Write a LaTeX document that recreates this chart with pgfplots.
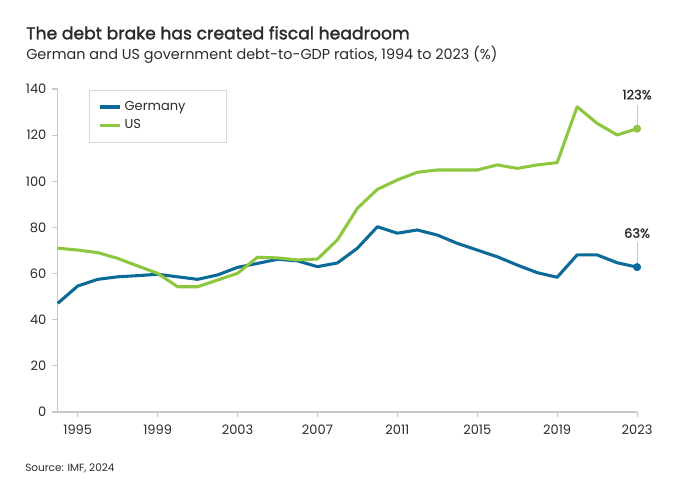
\documentclass[border=0pt]{standalone}
\usepackage{pgfplots}
\pgfplotsset{compat=1.18}
\usepackage{fontspec}
\setmainfont{Poppins}
\newfontfamily\titlefont{Poppins}[FakeBold=1.7]
\newfontfamily\annfont{Poppins}[FakeBold=1.3]
\definecolor{deblue}{HTML}{0B6A98}
\definecolor{usgreen}{HTML}{8DC63F}
\definecolor{axgray}{HTML}{C8C8C8}
\definecolor{txt}{HTML}{2B2B2B}
\begin{document}
\begin{tikzpicture}
\useasboundingbox (0,0) rectangle (510pt,-372pt);
\begin{scope}[x=0.75pt,y=-0.75pt]
\node[anchor=base west,inner sep=0pt,text=txt,font=\fontsize{12.9pt}{14pt}\selectfont\titlefont] at (26,39.3) {The debt brake has created fiscal headroom};
\node[anchor=base west,inner sep=0pt,text=txt,font=\fontsize{10.8pt}{12pt}\selectfont] at (26,59.3) {German and US government debt-to-GDP ratios, 1994 to 2023 (\%)};
\node[anchor=base west,inner sep=0pt,text=txt,font=\fontsize{7.85pt}{9pt}\selectfont] at (25,471) {Source: IMF, 2024};
\end{scope}
\begin{axis}[
  at={(43.3pt,-309pt)}, anchor=south west,
  scale only axis, width=434.5pt, height=242.25pt,
  xmin=1994, xmax=2023, ymin=0, ymax=140,
  xtick={1995,1999,2003,2007,2011,2015,2019,2023},
  ytick={0,20,...,140},
  xticklabel style={/pgf/number format/1000 sep={}},
  /pgf/number format/assume math mode=true,
  ticklabel style={font=\fontsize{9.75pt}{11pt}\selectfont, text=txt},
  axis x line*=bottom, axis y line*=left,
  axis line style={axgray, line width=0.8pt, -},
  major tick style={axgray, line width=0.8pt},
  tick align=outside, major tick length=4pt,
  xtick pos=bottom, ytick pos=left,
  yticklabel style={xshift=-1pt},
  xticklabel style={yshift=-2pt},
  clip=false,
  legend style={at={(rel axis cs:0.054,0.997)}, anchor=north west, draw=axgray!70, line width=0.6pt,
    font=\fontsize{9.75pt}{11pt}\selectfont, text=txt,
    inner xsep=7pt, inner ysep=6.3pt, row sep=1.3pt},
  legend cell align=left,
  legend image code/.code={\draw[#1, line width=2.4pt] (0pt,0pt) -- (15pt,0pt);},
]
\addplot[deblue, line width=2.3pt, line join=round] coordinates {
(1994,47.1) (1995,54.6) (1996,57.5) (1997,58.6) (1998,59.1) (1999,59.7)
(2000,58.6) (2001,57.5) (2002,59.4) (2003,62.7) (2004,64.4) (2005,66.2)
(2006,65.5) (2007,63.0) (2008,64.6) (2009,71.0) (2010,80.3) (2011,77.5)
(2012,78.9) (2013,76.7) (2014,73.1) (2015,70.2) (2016,67.3) (2017,63.7)
(2018,60.4) (2019,58.4) (2020,68.1) (2021,68.1) (2022,64.7) (2023,62.8)};
\addlegendentry{Germany\hspace*{22pt}}
\addplot[usgreen, line width=2.3pt, line join=round] coordinates {
(1994,71.0) (1995,70.2) (1996,69.1) (1997,66.6) (1998,63.3) (1999,60.1)
(2000,54.3) (2001,54.3) (2002,57.2) (2003,60.1) (2004,67.1) (2005,66.8)
(2006,65.9) (2007,66.3) (2008,74.6) (2009,88.3) (2010,96.5) (2011,100.6)
(2012,103.9) (2013,104.9) (2014,104.9) (2015,104.9) (2016,107.1) (2017,105.6)
(2018,107.1) (2019,108.1) (2020,132.3) (2021,125.1) (2022,120.1) (2023,122.8)};
\addlegendentry{US}
\draw[axgray, line width=0.7pt] (axis cs:2023,122.8) -- ++(0pt,18pt);
\draw[axgray, line width=0.7pt] (axis cs:2023,62.8) -- ++(0pt,18.5pt);
\addplot[only marks, mark=*, mark size=2.8pt, usgreen, forget plot] coordinates {(2023,122.8)};
\addplot[only marks, mark=*, mark size=2.8pt, deblue, forget plot] coordinates {(2023,62.8)};
\node[anchor=base, inner sep=0pt, text=txt, font=\fontsize{9.75pt}{11pt}\selectfont\annfont] at ([yshift=22pt]axis cs:2023,122.8) {123\%};
\node[anchor=base, inner sep=0pt, text=txt, font=\fontsize{9.75pt}{11pt}\selectfont\annfont] at ([yshift=22pt]axis cs:2023,62.8) {63\%};
\end{axis}
\end{tikzpicture}
\end{document}
